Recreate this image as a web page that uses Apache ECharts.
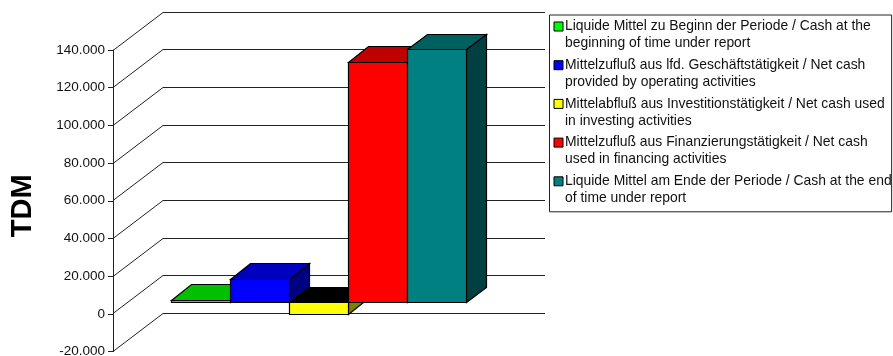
<!DOCTYPE html>
<html>
<head>
<meta charset="utf-8">
<style>html,body{margin:0;padding:0;background:#fff}#chart{width:893px;height:356px}</style>
<script src="https://cdn.jsdelivr.net/npm/echarts@6/dist/echarts.min.js"></script>
</head>
<body>
<div id="chart"></div>
<script>
// Cash flow statement, amounts in TDM
const seriesNames = [
  'Liquide Mittel zu Beginn der Periode / Cash at the\nbeginning of time under report',
  'Mittelzufluß aus lfd. Geschäftstätigkeit / Net cash\nprovided by operating activities',
  'Mittelabfluß aus Investitionstätigkeit / Net cash used\nin investing activities',
  'Mittelzufluß aus Finanzierungstätigkeit / Net cash\nused in financing activities',
  'Liquide Mittel am Ende der Periode / Cash at the end\nof time under report'
];
const seriesValues = [1400, 12500, -6100, 127700, 134300];
const frontColors = ['#00ff00', '#0000ff', '#ffff00', '#ff0000', '#008080'];
const topColors = ['#00c000', '#0000c0', '#000000', '#c00000', '#006060'];
const sideColors = ['#008000', '#000080', '#808000', '#800000', '#004040'];
const tickValues = [-20000, 0, 20000, 40000, 60000, 80000, 100000, 120000, 140000];
const tickLabels = ['-20.000', '0', '20.000', '40.000', '60.000', '80.000', '100.000', '120.000', '140.000'];

// Oblique projection of the box: the wall sits behind the axis plane,
// the bars stand part way between them.
const WALL = { dx: 50, dy: -38 };
const BAR_PLANE = { dx: 14.5, dy: -11 };
const BAR_DEPTH = { dx: 20, dy: -15.5 };
const BAR_WIDTH = 59;
const INK = '#000';
const FONT = '"Liberation Sans", Arial, sans-serif';

// Keeps one-pixel outlines on the pixel grid
const snap = (v) => Math.round(v - 0.5) + 0.5;

function poly(points, fill) {
  return {
    type: 'polygon',
    shape: { points: points.map(([x, y]) => [snap(x), snap(y)]) },
    style: { fill, stroke: INK, lineWidth: 1.2, lineJoin: 'miter' }
  };
}

function renderWallLine(params, api) {
  const [, y0] = api.coord([0, api.value(1)]);
  const left = params.coordSys.x;
  const y = snap(y0);
  const right = left + params.coordSys.width;
  return {
    type: 'polyline',
    shape: { points: [[left, y], [left + WALL.dx, snap(y + WALL.dy)], [right + WALL.dx, snap(y + WALL.dy)]] },
    style: { fill: null, stroke: '#222', lineWidth: 1 }
  };
}

function barRenderer(index) {
  return function (params, api) {
    const value = api.value(1);
    const [cx, yValue] = api.coord([0, value]);
    const [, yZero] = api.coord([0, 0]);
    const x0 = cx + BAR_PLANE.dx + (index - seriesValues.length / 2) * BAR_WIDTH;
    const x1 = x0 + BAR_WIDTH;
    const yTop = Math.min(yValue, yZero) + BAR_PLANE.dy;
    const yBottom = Math.max(yValue, yZero) + BAR_PLANE.dy;
    const ox = BAR_DEPTH.dx, oy = BAR_DEPTH.dy;
    return {
      type: 'group',
      children: [
        poly([[x1, yTop], [x1 + ox, yTop + oy], [x1 + ox, yBottom + oy], [x1, yBottom]], sideColors[index]),
        poly([[x0, yTop], [x0 + ox, yTop + oy], [x1 + ox, yTop + oy], [x1, yTop]], topColors[index]),
        poly([[x0, yTop], [x1, yTop], [x1, yBottom], [x0, yBottom]], frontColors[index])
      ]
    };
  };
}

const chart = echarts.init(document.getElementById('chart'), null, { renderer: 'canvas' });
chart.setOption({
  animation: false,
  backgroundColor: '#fff',
  textStyle: { fontFamily: FONT },
  grid: { left: 113, top: 50, width: 382, height: 301.5, outerBoundsMode: 'none' },
  xAxis: { type: 'category', data: [''], show: false },
  yAxis: {
    type: 'value',
    min: -20000,
    max: 140000,
    interval: 20000,
    name: 'TDM',
    nameLocation: 'middle',
    nameRotate: 90,
    nameGap: 75.5,
    nameTextStyle: { fontSize: 29, fontWeight: 'bold', color: '#000', fontFamily: FONT, padding: [0, 10, 0, 0] },
    axisLine: { show: true, lineStyle: { color: '#222', width: 1 } },
    axisTick: { show: true, length: 5, lineStyle: { color: '#222', width: 1 } },
    axisLabel: {
      color: '#111',
      fontSize: 13.5,
      margin: 8,
      padding: [1, 0, 0, 0],
      fontFamily: FONT,
      formatter: (v) => tickLabels[tickValues.indexOf(v)]
    },
    splitLine: { show: false }
  },
  legend: {
    data: seriesNames,
    orient: 'vertical',
    left: 549.5,
    top: 15,
    padding: [3, 0, 5, 4],
    itemGap: 4.7,
    itemWidth: 9,
    itemHeight: 26,
    // the zero-length second subpath stretches the symbol box so the swatch sits on the first text line
    icon: 'path://M0 0h9v9h-9z M0 26h0',
    selectedMode: false,
    borderColor: '#222',
    borderWidth: 1,
    itemStyle: { borderColor: '#000', borderWidth: 1 },
    textStyle: {
      fontSize: 13.9,
      color: '#111',
      lineHeight: 17,
      padding: [0, 0, 0, -3],
      fontFamily: FONT
    }
  },
  series: [
    {
      type: 'custom',
      name: 'wall',
      silent: true,
      renderItem: renderWallLine,
      encode: { x: 0, y: 1 },
      data: tickValues.map((v) => [0, v]),
      clip: false,
      z: 1
    }
  ].concat(seriesNames.map((name, i) => ({
    type: 'custom',
    name,
    renderItem: barRenderer(i),
    encode: { x: 0, y: 1 },
    itemStyle: { color: frontColors[i] },
    data: [[0, seriesValues[i]]],
    clip: false,
    z: 2
  })))
});
</script>
</body>
</html>
